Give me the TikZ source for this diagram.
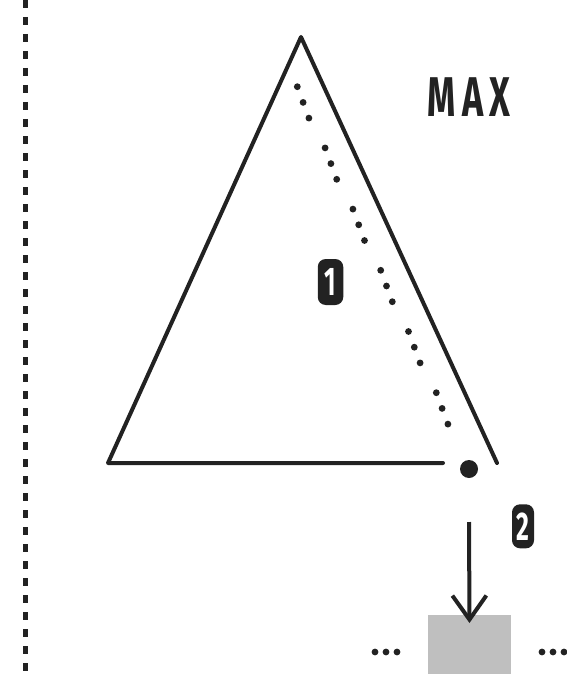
\documentclass[tikz,border=0pt]{standalone}
\usepackage{fontspec}
\setmainfont{Fira Sans}
\usetikzlibrary{calc,arrows.meta}
\definecolor{ink}{HTML}{222222}
\definecolor{boxgray}{HTML}{BFBFBF}
\tikzset{
  stroke/.style={draw=ink,line width=4},
  badge/.style={fill=ink,rounded corners=8,inner sep=0,
    text=white,font=\bfseries\fontsize{40}{40}\selectfont},
  dotmark/.style={fill=ink,draw=none},
  letter/.style={text=ink,inner sep=0,font=\bfseries\fontsize{56}{56}\selectfont,xscale=0.64},
}
\begin{document}
\begin{tikzpicture}[x=1pt,y=-1pt]
\useasboundingbox (0,0) rectangle (567,674);
% dashed divider
\draw[ink,line width=4.3,dash pattern=on 8 off 9] (25.5,0) -- (25.5,674);
% triangle
\coordinate (apex) at (301,37);
\coordinate (bl) at (108,463);
\coordinate (be) at (443,463);
\coordinate (br) at (497,463);
\draw[stroke,line cap=round,line join=round] (be) -- (bl) -- (apex) -- (br);
% dotted path: six groups of three dots
\coordinate (d1) at (297.3,86.7);
\foreach \g in {0,...,5} {
  \foreach \k in {0,1,2} {
    \fill[dotmark] ($(d1)+(27.8*\g+5.8*\k,61.2*\g+15.7*\k)$) circle (3.4);
  }
}
% leaf point
\coordinate (leaf) at (469,469);
\fill[dotmark] (leaf) circle (9);
% title letters
\node[letter] (maxm) at (441.7,97.5) {M};
\node[letter] (maxa) at (473.5,97.5) {A};
\node[letter] (maxx) at (500,97.5) {X};
% badges
\node[badge,minimum width=25.5,minimum height=46] (b1) at (330.5,282) {\scalebox{0.62}[1]{1}};
\node[badge,minimum width=22,minimum height=44] (b2) at (523,526.3) {\scalebox{0.62}[1]{2}};
% arrow and box
\coordinate (as) at (469,522);
\node[fill=boxgray,minimum width=83,minimum height=62,inner sep=0,anchor=north] (gbox) at (469.5,615) {};
\draw[stroke,-{Straight Barb[length=24,width=34,line width=4]}] (as) -- ([yshift=-8]gbox.north);
% ellipses
\foreach \x in {375,386,397} {\fill[dotmark] (\x,652) circle (3.4);}
\foreach \x in {542,553,564} {\fill[dotmark] (\x,652) circle (3.4);}
\end{tikzpicture}
\end{document}
